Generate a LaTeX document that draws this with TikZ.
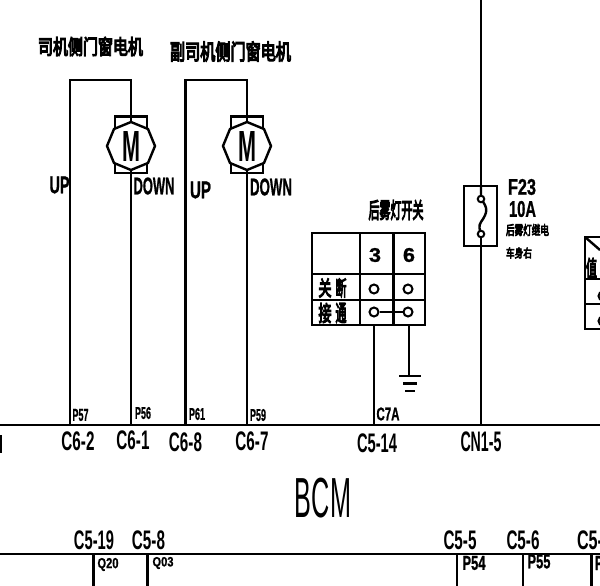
\documentclass[tikz,border=0pt]{standalone}
\usepackage{fontspec}
\usepackage{graphicx}
\setmainfont{Liberation Sans}
\newfontfamily\cjkb[FakeBold=6]{Noto Sans CJK SC}
\newfontfamily\heavy[FakeBold=1.2]{Liberation Sans Bold}
\usetikzlibrary{calc}
\newcommand{\fitt}[3]{\resizebox*{#1pt}{#2pt}{#3}}
\tikzset{
  wire/.style={line width=2.4pt, line cap=butt},
  lab/.style={inner sep=0pt, outer sep=0pt, font=\heavy},
  cjk/.style={inner sep=0pt, outer sep=0pt, font=\cjkb},
  conn/.style={inner sep=0pt, outer sep=0pt, font=\normalfont},
  term/.style={circle, draw, line width=2pt, minimum size=9pt, inner sep=0pt, fill=white},
  dot/.style={circle, draw, line width=2pt, minimum size=6.5pt, inner sep=0pt, fill=white},
}
\newcommand{\motor}[2]{%
  \draw[wire] (#1-16,#2-29.5) rectangle (#1+16,#2+27);
  \draw[wire,fill=white] (#1,#2-24) -- (#1+17,#2-17) -- (#1+24,#2) -- (#1+17,#2+17) -- (#1,#2+24) -- (#1-17,#2+17) -- (#1-24,#2) -- (#1-17,#2-17) -- cycle;
}
\begin{document}
\begin{tikzpicture}[x=1pt,y=-1pt]
\useasboundingbox (0,0) rectangle (600,586);
\clip (0,0) rectangle (600,586);
% motor wiring
\draw[wire] (70,425) -- (70,80) -- (131,80) -- (131,425);
\draw[wire] (185.5,425) -- (185.5,80) -- (247,80) -- (247,425);
\motor{131}{146}
\motor{247}{146}
\node[conn] (mA) at (131,146) {\fitt{18}{30}{\textbf{M}}};
\node[conn] (mB) at (247,146) {\fitt{18}{30}{\textbf{M}}};
\node[cjk] (t1) at (90.5,46.5) {\fitt{105}{19}{司机侧门窗电机}};
\node[cjk] (t2) at (230.5,51.5) {\fitt{121}{20}{副司机侧门窗电机}};
\node[lab] (u1) at (59.5,185) {\fitt{20}{17}{UP}};
\node[lab] (d1) at (154,186) {\fitt{41}{17}{DOWN}};
\node[lab] (u2) at (200.5,190) {\fitt{21}{17}{UP}};
\node[lab] (d2) at (271,187) {\fitt{42}{17}{DOWN}};
% buses
\draw[wire] (0,425) -- (600,425);
\draw[wire] (0,554) -- (600,554);
\draw[wire] (0.5,435) -- (0.5,453);
% switch
\node[cjk] (sw) at (396,210) {\fitt{55}{20}{后雾灯开关}};
\draw[wire] (312,233) rectangle (425,325);
\draw[wire] (312,274) -- (425,274);
\draw[wire] (312,300) -- (425,300);
\draw[wire] (360,233) -- (360,325);
\draw[wire] (393.5,233) -- (393.5,325);
\node[lab] at (375,255) {\fitt{12}{14}{3}};
\node[lab] at (409,255) {\fitt{12}{14}{6}};
\node[cjk] at (325,288) {\fitt{13}{19}{关}};
\node[cjk] at (341,288) {\fitt{11}{19}{断}};
\node[cjk] at (325,313) {\fitt{13}{20}{接}};
\node[cjk] at (341,313) {\fitt{11}{20}{通}};
\node[term] (a1) at (374,289) {};
\node[term] (b1) at (408,289) {};
\node[term] (a2) at (374,312) {};
\node[term] (b2) at (408,312) {};
\draw[wire] (a2) -- (b2);
\coordinate (sa) at (374,325);
\coordinate (sb) at (409,325);
\coordinate (ga) at (374,425);
\coordinate (gb) at (409,376);
\draw[wire] (sa) -- (ga);
\draw[wire] (sb) -- (gb);
\draw[wire] (399,376) -- (421,376);
\draw[wire] (403,383.5) -- (417,383.5);
\draw[wire] (405,391) -- (415,391);
% fuse
\draw[wire] (481,0) -- (481,425);
\draw[wire,fill=white] (464,186) rectangle (497,246);
\draw[wire] (481,186) -- (481,199) .. controls (488,208) and (488,212) .. (481,222) .. controls (478,226) and (480,230) .. (481,235);
\draw[wire] (481,235) -- (481,246);
\node[dot] (f1) at (481,199) {};
\node[dot] (f2) at (481,234) {};
\node[lab,anchor=west] (f23) at (508,187) {\fitt{28}{16}{F23}};
\node[lab,anchor=west] (a10) at (509,209) {\fitt{27}{16}{10A}};
\node[cjk,anchor=west] (fa) at (506,230) {\fitt{43}{12}{后雾灯继电}};
\node[cjk,anchor=west] (fb) at (506,253) {\fitt{26}{11}{车身右}};
% right partial table
\draw[wire] (585,237) rectangle (620,329);
\draw[wire] (585,279) -- (600,279);
\draw[wire] (585,304) -- (600,304);
\draw[wire] (585,237) -- (600,250);
\node[cjk] at (591.5,268) {\fitt{11}{20}{值}};
\node[term] at (603,296) {};
\node[term] at (603,321) {};
% pin labels
\foreach \n/\x/\y/\t in {p1/80.5/415/P57,p2/143/413/P56,p3/197/414/P61,p4/258/415/P59}
  \node[lab] (\n) at (\x,\y) {\fitt{16}{12}{\t}};
\node[lab] (p5) at (388,414) {\fitt{23}{13}{C7A}};
\foreach \n/\x/\y/\t in {c1/78/441/C6-2,c2/133/440/C6-1,c3/185.5/442/C6-8,c4/252/441/C6-7}
  \node[conn] (\n) at (\x,\y) {\fitt{33}{19}{\textbf{\t}}};
\node[conn] (c5) at (377,443.5) {\fitt{40}{19}{\textbf{C5-14}}};
\node[conn] (c6) at (481,442) {\fitt{41}{20}{\textbf{CN1-5}}};
\node[conn] (bcm) at (323,498) {\fitt{56}{40}{BCM}};
\node[conn] (c7) at (94,540) {\fitt{40}{19}{\textbf{C5-19}}};
\node[conn] (c8) at (148.5,540.5) {\fitt{33}{19}{\textbf{C5-8}}};
\node[conn] (c9) at (460,540) {\fitt{33}{19}{\textbf{C5-5}}};
\node[conn] (c10) at (523,540) {\fitt{33}{19}{\textbf{C5-6}}};
\node[conn,anchor=west] (c11) at (577,540) {\fitt{26}{19}{\textbf{C5-}}};
% lower wires
\foreach \x in {93.5,147.5,457,522.7,591.5}
  \draw[wire] (\x,554) -- (\x,586);
\node[lab] (q1) at (108,564.5) {\fitt{21}{13}{Q20}};
\node[lab] (q2) at (163,563) {\fitt{21}{12}{Q03}};
\node[lab] (q3) at (474,563) {\fitt{23}{14}{P54}};
\node[lab] (q4) at (539,561.5) {\fitt{23}{14}{P55}};
\node[lab,anchor=west] (q5) at (595,563) {\fitt{8}{14}{P}};
\end{tikzpicture}
\end{document}
